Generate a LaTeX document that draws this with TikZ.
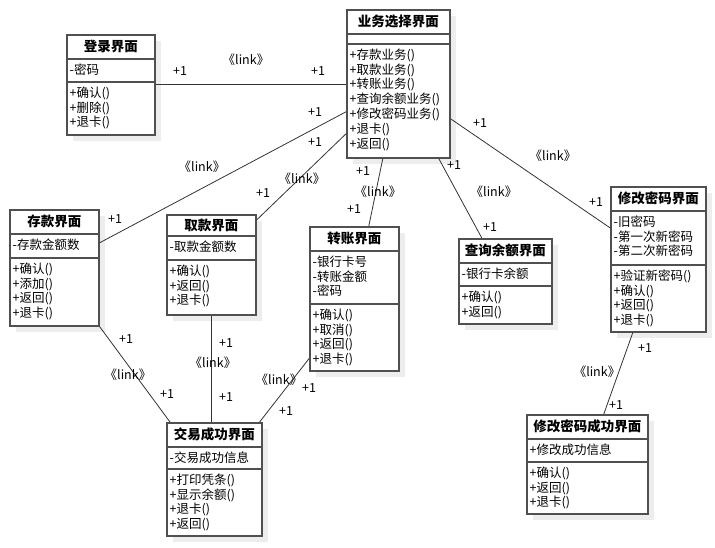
\documentclass[tikz,border=0pt]{standalone}
\usepackage{fontspec}
\setmainfont{Noto Sans CJK SC}
\usetikzlibrary{positioning}

\definecolor{boxgray}{HTML}{505050}
\definecolor{shadowgray}{HTML}{EDEDED}
\definecolor{linegray}{HTML}{333333}

\tikzset{
  classbox/.style={draw=boxgray, line width=1.6pt, fill=white, inner sep=0pt, rectangle},
  classsep/.style={draw=boxgray, line width=1.6pt},
  classtitle/.style={font=\fontsize{13.5}{16}\selectfont\bfseries, inner sep=0pt},
  classtext/.style={font=\fontsize{12.5}{14.8}\selectfont, align=left, inner xsep=3.5pt, inner ysep=4.5pt},
  assoc/.style={draw=linegray, line width=0.8pt},
  mult/.style={font=\fontsize{12.5}{14}\selectfont, inner sep=0pt},
}

% class box: name, top left, width, height, title row, attr row end, title, attributes, operations
\newcommand{\umlclass}[9]{%
  \coordinate (#1-nw) at (#2);
  \fill[shadowgray] ([shift={(7,7)}]#1-nw) rectangle ++(#3,#4);
  \node[classbox, minimum width=#3pt, minimum height=#4pt, anchor=north west] (#1) at (#1-nw) {};
  \draw[classsep] ([yshift=-#5pt]#1.north west) -- ([yshift=-#5pt]#1.north east);
  \draw[classsep] ([yshift=-#6pt]#1.north west) -- ([yshift=-#6pt]#1.north east);
  \node[classtitle, minimum height=#5pt, anchor=north] (#1-title) at (#1.north) {#7};
  \node[classtext, anchor=north west] (#1-attr) at ([yshift=-#5pt]#1.north west) {#8};
  \node[classtext, anchor=north west] (#1-ops) at ([yshift=-#6pt]#1.north west) {#9};
}

\begin{document}
\begin{tikzpicture}[x=1pt, y=-1pt]
  \useasboundingbox (0,0) rectangle (715,547);

  % Classes
  \umlclass{login}{66,34}{88}{100}{25}{48}{登录界面}{-密码}{+确认()\\+删除()\\+退卡()}
  \umlclass{menu}{346,9}{103}{148}{25}{35}{业务选择界面}{}{+存款业务()\\+取款业务()\\+转账业务()\\+查询余额业务()\\+修改密码业务()\\+退卡()\\+返回()}
  \umlclass{deposit}{9,209}{89}{116}{25}{49}{存款界面}{-存款金额数}{+确认()\\+添加()\\+返回()\\+退卡()}
  \umlclass{withdraw}{166,214}{89}{100}{22}{46}{取款界面}{-取款金额数}{+确认()\\+返回()\\+退卡()}
  \umlclass{transfer}{309,226}{89}{144}{25}{78}{转账界面}{-银行卡号\\-转账金额\\-密码}{+确认()\\+取消()\\+返回()\\+退卡()}
  \umlclass{query}{458,238}{93}{85}{25}{48}{查询余额界面}{-银行卡余额}{+确认()\\+返回()}
  \umlclass{chpwd}{610,186}{95}{145}{25}{79}{修改密码界面}{-旧密码\\-第一次新密码\\-第二次新密码}{+验证新密码()\\+确认()\\+返回()\\+退卡()}
  \umlclass{done}{166,422}{95}{113}{25}{47}{交易成功界面}{-交易成功信息}{+打印凭条()\\+显示余额()\\+退卡()\\+返回()}
  \umlclass{chpwdok}{526,414}{121}{99}{25}{48}{修改密码成功界面}{+修改成功信息}{+确认()\\+返回()\\+退卡()}

  % Associations
  \draw[assoc] (login.east) -- (login.east -| menu.west);
  \draw[assoc] ([yshift=-28pt]menu.west) -- ([yshift=25pt]deposit.east);
  \draw[assoc] ([yshift=-50pt]menu.west) -- ([yshift=-6pt]withdraw.north east);
  \draw[assoc] ([xshift=-15.5pt]menu.south) -- ([xshift=14.5pt]transfer.north);
  \draw[assoc] ([xshift=40.5pt]menu.south) -- ([xshift=-23.5pt]query.north);
  \draw[assoc] ([yshift=-35pt]menu.east) -- ([yshift=31.5pt]chpwd.west);
  \draw[assoc] (deposit.south east) -- ([xshift=4pt]done.north west);
  \draw[assoc] (withdraw.south) -- (withdraw.south |- done.north);
  \draw[assoc] ([yshift=13pt]transfer.south west) -- ([xshift=-3pt]done.north east);
  \draw[assoc] ([xshift=-25.5pt]chpwd.south) -- ([xshift=16.5pt]chpwdok.north);

  % Multiplicities
  \foreach \x/\y [count=\i] in {180/71, 318/71, 315/112, 115/219, 315/142, 263/193,
      363/171, 354/209, 454/165, 490/227, 480/123, 596/202, 126/339, 167/394,
      226/343, 226/397, 309/388, 286/411, 645/348, 616/405}
    \node[mult] (one\i) at (\x,\y) {+1};

  % Stereotypes
  \foreach \x/\y [count=\i] in {246/60, 202/167, 302/179, 378/192, 494/192,
      553/156, 128/375, 213/363, 279/380, 597/372}
    \node[mult] (link\i) at (\x,\y) {《link》};
\end{tikzpicture}
\end{document}
